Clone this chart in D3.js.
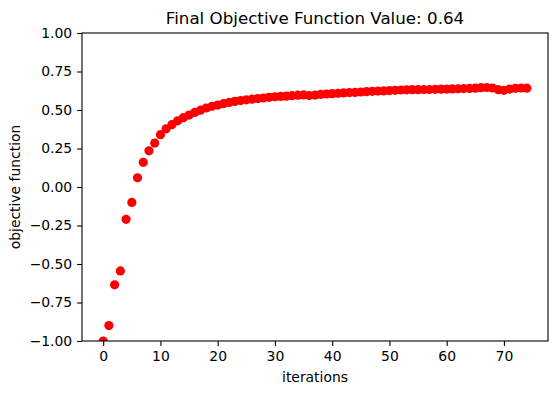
<!DOCTYPE html>
<html><head><meta charset="utf-8">
<script src="https://cdn.jsdelivr.net/npm/d3@7"></script>
<style>body{margin:0;background:#fff}svg{display:block;font-family:"DejaVu Sans",sans-serif}</style>
</head><body><svg id="c" width="556" height="393"></svg>
<script>
const iterations = d3.range(0, 75);
const objective = [
 -1.00,-0.90,-0.635,-0.545,-0.21,-0.10,0.06,0.16,0.235,0.285,
 0.34,0.378,0.405,0.43,0.45,0.467,0.484,0.499,0.513,0.524,
 0.532,0.541,0.549,0.556,0.561,0.566,0.570,0.574,0.578,0.582,
 0.586,0.588,0.590,0.593,0.596,0.598,0.594,0.597,0.601,0.604,
 0.606,0.608,0.611,0.613,0.614,0.617,0.619,0.621,0.623,0.624,
 0.626,0.628,0.630,0.631,0.632,0.632,0.633,0.633,0.634,0.635,
 0.636,0.637,0.638,0.639,0.640,0.642,0.645,0.646,0.643,0.632,
 0.628,0.636,0.641,0.643,0.642];
const xTicks = [0,10,20,30,40,50,60,70];
const yTicks = [-1,-0.75,-0.5,-0.25,0,0.25,0.5,0.75,1];
const title = "Final Objective Function Value: 0.64";

const L=82, R=548, T=33, B=341;
const svg = d3.select("#c");
const n = iterations.length - 1, m = n*0.05;
const x = d3.scaleLinear().domain([-m, n+m]).range([L, R]);
const y = d3.scaleLinear().domain([-1, 1]).range([B, T]);

svg.append("defs").append("clipPath").attr("id","clip")
  .append("rect").attr("x",L).attr("y",T).attr("width",R-L).attr("height",B-T);

svg.append("g").attr("clip-path","url(#clip)")
  .selectAll("circle").data(iterations).join("circle")
  .attr("cx", d=>x(d)).attr("cy", (d,i)=>y(objective[i]))
  .attr("r", 4.6).attr("fill","#ff0000");

const fs = "13.9px";
const gx = svg.append("g").attr("transform",`translate(0,${B})`)
  .call(d3.axisBottom(x).tickValues(xTicks).tickSize(4.9).tickPadding(4.9).tickFormat(d3.format("d")));
const gy = svg.append("g").attr("transform",`translate(${L},0)`)
  .call(d3.axisLeft(y).tickValues(yTicks).tickSize(4.9).tickPadding(4.9).tickFormat(d3.format(".2f")));
[gx,gy].forEach(g=>{
  g.select(".domain").remove();
  g.selectAll("line").attr("stroke","#000").attr("stroke-width",1.1);
  g.selectAll("text").attr("fill","#000").style("font-size",fs).style("font-family","DejaVu Sans");
});

svg.append("rect").attr("x",L).attr("y",T).attr("width",R-L).attr("height",B-T)
  .attr("fill","none").attr("stroke","#000").attr("stroke-width",1.1);

svg.append("text").attr("x",(L+R)/2).attr("y",T-9).attr("text-anchor","middle")
  .style("font-size","16.7px").text(title);
svg.append("text").attr("x",(L+R)/2).attr("y",382).attr("text-anchor","middle")
  .style("font-size",fs).text("iterations");
svg.append("text").attr("transform",`translate(20,${(T+B)/2}) rotate(-90)`).attr("text-anchor","middle")
  .style("font-size",fs).text("objective function");
</script></body></html>
